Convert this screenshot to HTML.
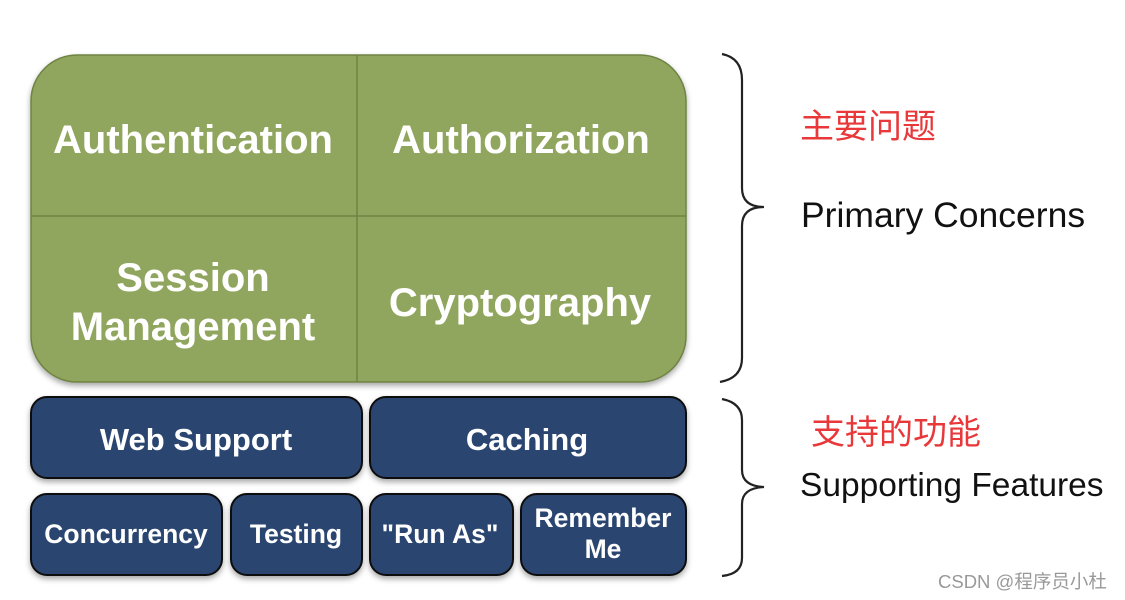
<!DOCTYPE html>
<html><head><meta charset="utf-8"><style>
html,body{margin:0;padding:0;background:#fff;width:1125px;height:600px;overflow:hidden}
svg{display:block}
.w{font-family:"Liberation Sans",sans-serif;font-weight:bold;fill:#fff;text-anchor:middle}
.k{font-family:"Liberation Sans",sans-serif;fill:#111}
.r{font-family:"Liberation Sans","Noto Sans CJK SC",sans-serif;fill:#e8383a}
</style></head><body>
<svg width="1125" height="600" viewBox="0 0 1125 600">
<defs><filter id="s" x="-10%" y="-10%" width="120%" height="130%"><feDropShadow dx="0" dy="3" stdDeviation="3" flood-color="#000" flood-opacity="0.35"/></filter></defs>
<rect x="31" y="55" width="655" height="327" rx="46" fill="#90a55d" stroke="#6e8342" stroke-width="1.5" filter="url(#s)"/>
<line x1="357" y1="55" x2="357" y2="382" stroke="#6e8342" stroke-width="1.5"/>
<line x1="31" y1="216" x2="686" y2="216" stroke="#6e8342" stroke-width="1.5"/>
<text class="w" x="193" y="153" font-size="40">Authentication</text>
<text class="w" x="521" y="153" font-size="40">Authorization</text>
<text class="w" x="193" y="291" font-size="40">Session</text>
<text class="w" x="193" y="340" font-size="40">Management</text>
<text class="w" x="520" y="316" font-size="40">Cryptography</text>
<g fill="#2b4470" stroke="#111" stroke-width="2" filter="url(#s)">
<rect x="31" y="397" width="331" height="81" rx="16"/>
<rect x="370" y="397" width="316" height="81" rx="16"/>
<rect x="31" y="494" width="191" height="81" rx="16"/>
<rect x="231" y="494" width="131" height="81" rx="16"/>
<rect x="370" y="494" width="143" height="81" rx="16"/>
<rect x="521" y="494" width="165" height="81" rx="16"/>
</g>
<text class="w" x="196" y="450" font-size="31">Web Support</text>
<text class="w" x="527" y="450" font-size="31">Caching</text>
<text class="w" x="126" y="543" font-size="26.5">Concurrency</text>
<text class="w" x="296" y="543" font-size="26.5">Testing</text>
<text class="w" x="440" y="543" font-size="26.5">"Run As"</text>
<text class="w" x="603" y="527" font-size="26.5">Remember</text>
<text class="w" x="603" y="558" font-size="26.5">Me</text>
<g fill="none" stroke="#222" stroke-width="2.2">
<path d="M722 54 Q742 58 742 80 L742 188 Q742 207 764 207 Q742 207 742 226 L742 358 Q742 378 720 382"/>
<path d="M722 399 Q742 403 742 420 L742 470 Q742 486 764 487 Q742 488 742 504 L742 558 Q742 574 722 576"/>
</g>
<text class="r" x="800" y="138" font-size="34">主要问题</text>
<text class="k" x="801" y="227" font-size="35.5">Primary Concerns</text>
<text class="r" x="811" y="444" font-size="34">支持的功能</text>
<text class="k" x="800" y="496" font-size="33.5">Supporting Features</text>
<text x="938" y="588" font-size="18.5" fill="#999" font-family="'Liberation Sans','Noto Sans CJK SC',sans-serif">CSDN @程序员小杜</text>
</svg>
</body></html>
